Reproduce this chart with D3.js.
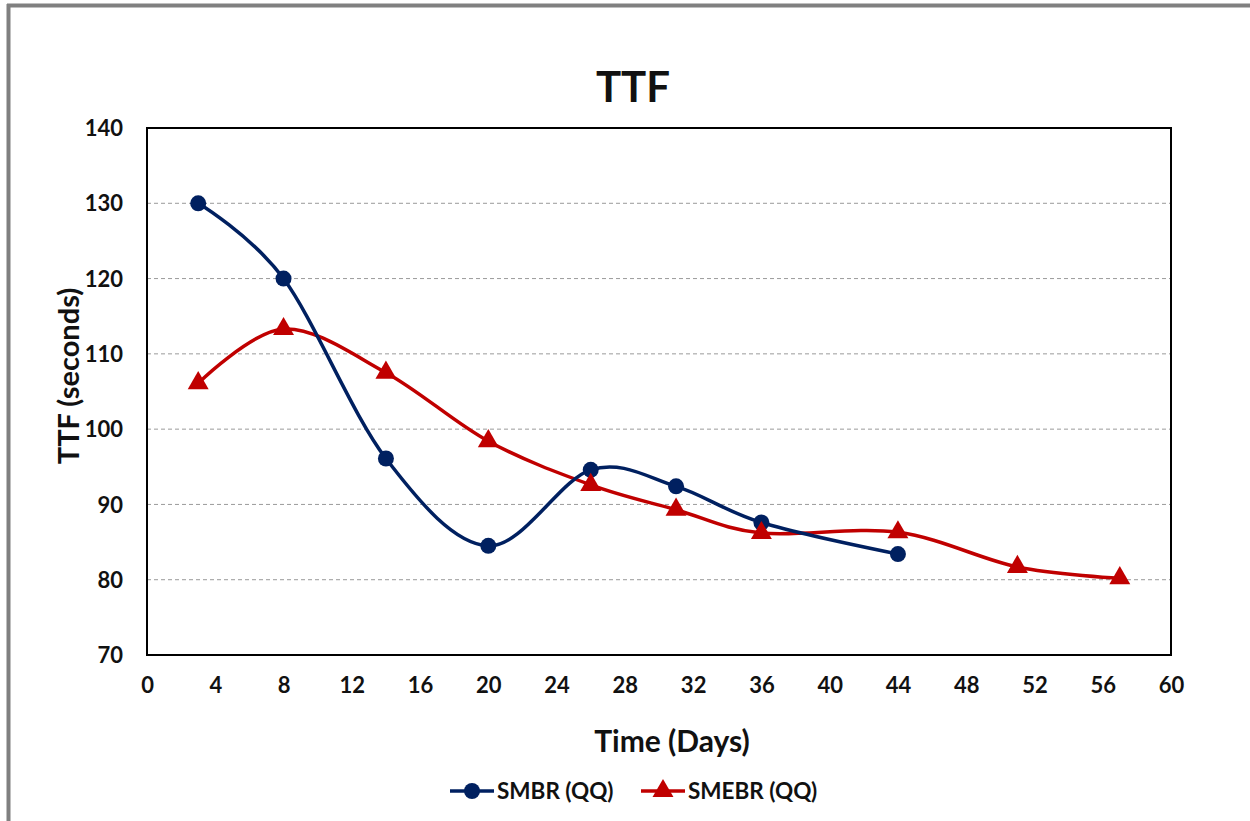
<!DOCTYPE html>
<html>
<head>
<meta charset="utf-8">
<script src="https://cdn.jsdelivr.net/npm/d3@7"></script>
<style>
  body { margin: 0; background: #fff; }
  svg text { font-family: Lato, "Open Sans", sans-serif; font-weight: bold; fill: #111; }
</style>
</head>
<body>
<div id="chart"></div>
<script>
// data
const smbrDays = [3, 8, 14, 20, 26, 31, 36, 44];
const smbrTTF = [130, 120, 96.1, 84.5, 94.6, 92.4, 87.6, 83.4];
const smebrDays = [3, 8, 14, 20, 26, 31, 36, 44, 51, 57];
const smebrTTF = [106.1, 113.3, 107.5, 98.4, 92.6, 89.3, 86.2, 86.3, 81.7, 80.2];
const xTicks = d3.range(0, 61, 4);
const yTicks = [70, 80, 90, 100, 110, 120, 130, 140];
const seriesNames = ["SMBR (QQ)", "SMEBR (QQ)"];

const width = 1250;
const height = 821;
const margin = {left: 147, right: 79, top: 128, bottom: 166};

const svg = d3.select("#chart")
  .append("svg")
  .attr("width", width)
  .attr("height", height);

// grey frame (top and left only, like the cropped screenshot)
svg.append("line").attr("x1", 7).attr("x2", width).attr("y1", 5.5).attr("y2", 5.5)
  .attr("stroke", "#808080").attr("stroke-width", 4);
svg.append("line").attr("x1", 8.5).attr("x2", 8.5).attr("y1", 4).attr("y2", height)
  .attr("stroke", "#808080").attr("stroke-width", 4);

const x = d3.scaleLinear()
  .domain([0, 60])
  .range([margin.left, width - margin.right]);

const y = d3.scaleLinear()
  .domain([70, 140])
  .range([height - margin.bottom, margin.top]);

// gridlines
svg.append("g")
  .selectAll("line")
  .data(yTicks.filter(d => d > 70 && d < 140))
  .enter()
  .append("line")
    .attr("x1", x(0))
    .attr("x2", x(60))
    .attr("y1", d => y(d))
    .attr("y2", d => y(d))
    .attr("stroke", "#9a9a9a")
    .attr("stroke-width", 1)
    .attr("stroke-dasharray", "4,3");

// axes, ticks hidden, only the labels
const yAxis = svg.append("g")
  .attr("transform", `translate(${x(0)}, 0)`)
  .call(d3.axisLeft(y).tickValues(yTicks).tickSize(0).tickPadding(24));
yAxis.select(".domain").remove();
yAxis.selectAll("text").attr("font-size", "22px").attr("dy", "0.35em");

const xAxis = svg.append("g")
  .attr("transform", `translate(0, ${y(70)})`)
  .call(d3.axisBottom(x).tickValues(xTicks).tickSize(0).tickPadding(22));
xAxis.select(".domain").remove();
xAxis.selectAll("text").attr("font-size", "22px");

// plot frame
svg.append("rect")
  .attr("x", x(0))
  .attr("y", y(140))
  .attr("width", x(60) - x(0))
  .attr("height", y(70) - y(140))
  .attr("fill", "none")
  .attr("stroke", "#000")
  .attr("stroke-width", 2);

const line = d3.line()
  .x(d => x(d[0]))
  .y(d => y(d[1]))
  .curve(d3.curveCardinal.tension(0));

const smbr = smbrDays.map((d, i) => [d, smbrTTF[i]]);
const smebr = smebrDays.map((d, i) => [d, smebrTTF[i]]);

const blue = "#002060";
const red = "#c00000";
const tri = d3.symbol().type(d3.symbolTriangle).size(190);

svg.append("path")
  .datum(smebr)
  .attr("d", line)
  .attr("fill", "none")
  .attr("stroke", red)
  .attr("stroke-width", 3.5);

svg.append("path")
  .datum(smbr)
  .attr("d", line)
  .attr("fill", "none")
  .attr("stroke", blue)
  .attr("stroke-width", 3.5);

svg.selectAll(".smbr")
  .data(smbr)
  .enter()
  .append("circle")
    .attr("cx", d => x(d[0]))
    .attr("cy", d => y(d[1]))
    .attr("r", 8)
    .attr("fill", blue);

svg.selectAll(".smebr")
  .data(smebr)
  .enter()
  .append("path")
    .attr("d", tri)
    .attr("transform", d => `translate(${x(d[0])}, ${y(d[1])})`)
    .attr("fill", red);

// titles
svg.append("text")
  .attr("x", 633)
  .attr("y", 102)
  .attr("text-anchor", "middle")
  .attr("font-size", "42px")
  .text("TTF");

svg.append("text")
  .attr("x", 672)
  .attr("y", 752)
  .attr("text-anchor", "middle")
  .attr("font-size", "30px")
  .text("Time (Days)");

svg.append("text")
  .attr("transform", "translate(79, 376) rotate(-90)")
  .attr("text-anchor", "middle")
  .attr("font-size", "29px")
  .text("TTF (seconds)");

// legend
const legendY = 791;
const leg1 = svg.append("g");
leg1.append("line").attr("x1", 450).attr("x2", 494).attr("y1", legendY).attr("y2", legendY)
  .attr("stroke", blue).attr("stroke-width", 3.5);
leg1.append("circle").attr("cx", 472).attr("cy", legendY).attr("r", 8).attr("fill", blue);
leg1.append("text").attr("x", 497).attr("y", legendY).attr("dy", "0.35em")
  .attr("font-size", "22.5px").text(seriesNames[0]);

const leg2 = svg.append("g");
leg2.append("line").attr("x1", 641).attr("x2", 685).attr("y1", legendY).attr("y2", legendY)
  .attr("stroke", red).attr("stroke-width", 3.5);
leg2.append("path").attr("d", tri).attr("transform", `translate(663, ${legendY})`).attr("fill", red);
leg2.append("text").attr("x", 688).attr("y", legendY).attr("dy", "0.35em")
  .attr("font-size", "22.5px").text(seriesNames[1]);
</script>
</body>
</html>
